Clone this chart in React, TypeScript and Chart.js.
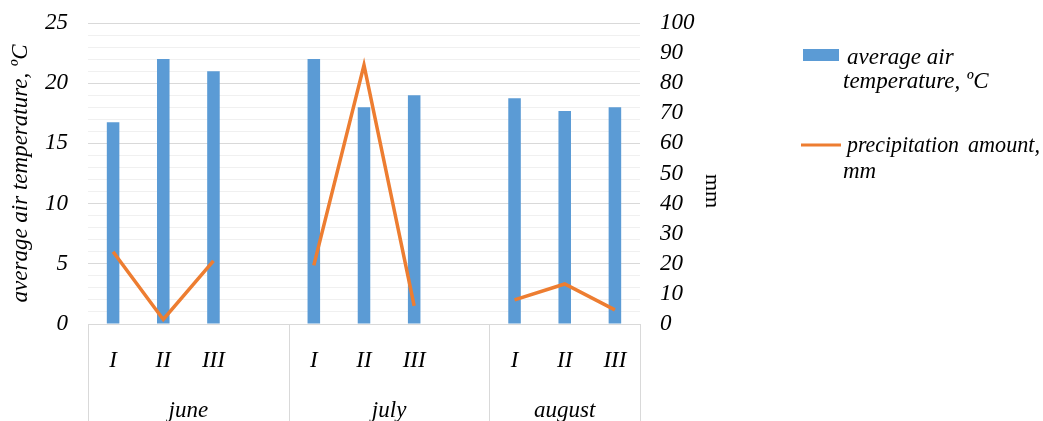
import React, { useEffect, useRef } from "react";
import { Chart, registerables } from "chart.js";

Chart.register(...registerables);

const categories = ["I", "II", "III", "", "I", "II", "III", "", "I", "II", "III"];
const months = ["june", "july", "august"];
const monthGroups = [[0, 3], [4, 7], [8, 10]];
const temperature = [16.75, 22, 21, null, 22, 18, 19, null, 18.75, 17.7, 18];
const precipitation = [24, 1.5, 21, null, 19.5, 86, 6, null, 8, 13.3, 4.7];
const leftTicks = { min: 0, max: 25, step: 1, labelEvery: 5 };
const rightTicks = { min: 0, max: 100, step: 10 };

const FONT = "'Liberation Serif', 'Times New Roman', serif";
const FS = 23;
const BLUE = "#5b9bd5";
const ORANGE = "#ed7d31";

const decorPlugin = {
  id: "decor",
  afterDraw(chart: any) {
    const ctx = chart.ctx;
    const x = chart.scales.x;
    const area = chart.chartArea;
    const H = chart.height;
    const half = (x.getPixelForValue(1) - x.getPixelForValue(0)) / 2;
    ctx.save();
    const bounds: number[] = [];
    monthGroups.forEach((g, i) => {
      if (i === 0) bounds.push(x.getPixelForValue(g[0]) - half);
      bounds.push(x.getPixelForValue(g[1]) + half);
    });
    ctx.strokeStyle = "#d9d9d9";
    ctx.lineWidth = 1;
    bounds.forEach((b) => {
      const bx = Math.round(b) + 0.5;
      ctx.beginPath();
      ctx.moveTo(bx, area.bottom);
      ctx.lineTo(bx, H);
      ctx.stroke();
    });
    ctx.fillStyle = "#000";
    ctx.font = `italic ${FS}px ${FONT}`;
    ctx.textAlign = "center";
    ctx.textBaseline = "middle";
    monthGroups.forEach((g, i) => {
      const cx = (bounds[i] + bounds[i + 1]) / 2;
      ctx.fillText(months[i], cx, 411);
    });
    ctx.save();
    ctx.translate(712, 191);
    ctx.rotate(Math.PI / 2);
    ctx.font = `22px ${FONT}`;
    ctx.fillText("mm", 0, 0);
    ctx.restore();
    ctx.fillStyle = BLUE;
    ctx.fillRect(803, 49, 36, 12);
    ctx.strokeStyle = ORANGE;
    ctx.lineWidth = 3;
    ctx.beginPath();
    ctx.moveTo(801, 145);
    ctx.lineTo(841, 145);
    ctx.stroke();
    ctx.fillStyle = "#000";
    ctx.font = `italic ${FS}px ${FONT}`;
    ctx.textAlign = "left";
    ctx.fillText("average air", 847, 58);
    ctx.fillText("temperature, ºC", 843, 82);
    ctx.fillText("precipitation", 847, 146, 112);
    ctx.fillText("mm", 843, 172);
    ctx.textAlign = "right";
    ctx.fillText("amount,", 1040, 146, 72);
    ctx.restore();
  },
};

export default function App() {
  const ref = useRef<HTMLCanvasElement>(null);
  useEffect(() => {
    if (!ref.current) return;
    const chart = new Chart(ref.current, {
      type: "bar",
      data: {
        labels: categories,
        datasets: [
          {
            type: "line",
            label: "precipitation amount, mm",
            data: precipitation,
            yAxisID: "y1",
            borderColor: ORANGE,
            backgroundColor: ORANGE,
            borderWidth: 3.5,
            pointRadius: 0,
            spanGaps: false,
            order: 0,
          } as any,
          {
            type: "bar",
            label: "average air temperature, ºC",
            data: temperature,
            yAxisID: "y",
            backgroundColor: BLUE,
            barPercentage: 0.5,
            categoryPercentage: 0.5,
            order: 1,
          },
        ],
      },
      options: {
        responsive: false,
        animation: false,
        layout: { padding: { left: 0, top: 23, right: 343, bottom: 0 } },
        plugins: { legend: { display: false }, tooltip: { enabled: false } },
        scales: {
          x: {
            grid: { display: false },
            border: { display: true, color: "#d9d9d9" },
            ticks: {
              color: "#000",
              font: { family: FONT, size: FS, style: "italic" },
              padding: 15,
              maxRotation: 0,
              autoSkip: false,
            },
            afterFit(s: any) {
              s.height = 97;
            },
          },
          y: {
            position: "left",
            min: leftTicks.min,
            max: leftTicks.max,
            grid: {
              drawTicks: false,
              color: (c: any) =>
                c.tick && c.tick.value % leftTicks.labelEvery === 0 ? "#d9d9d9" : "#f0f0f0",
            },
            border: { display: false },
            ticks: {
              stepSize: leftTicks.step,
              autoSkip: false,
              color: "#000",
              font: { family: FONT, size: FS, style: "italic" },
              padding: 20,
              callback: (v: any) => (v % leftTicks.labelEvery === 0 ? String(v) : ""),
            },
            title: {
              display: true,
              text: "average air temperature, ºC",
              color: "#000",
              font: { family: FONT, size: FS, style: "italic" },
              padding: { top: 7, bottom: 0 },
            },
            afterFit(s: any) {
              s.width = 88;
              s.paddingTop = 0;
              s.paddingBottom = 0;
            },
          },
          y1: {
            position: "right",
            min: rightTicks.min,
            max: rightTicks.max,
            grid: { display: false, drawTicks: false },
            border: { display: false },
            ticks: {
              stepSize: rightTicks.step,
              autoSkip: false,
              color: "#000",
              font: { family: FONT, size: FS, style: "italic" },
              padding: 20,
            },
            afterFit(s: any) {
              s.width = 60;
              s.paddingTop = 0;
              s.paddingBottom = 0;
            },
          },
        },
      },
      plugins: [decorPlugin],
    });
    return () => chart.destroy();
  }, []);
  return (
    <div style={{ position: "fixed", left: 0, top: 0, width: 1043, height: 421, background: "#fff" }}>
      <canvas ref={ref} width={1043} height={421} style={{ display: "block" }} />
    </div>
  );
}
